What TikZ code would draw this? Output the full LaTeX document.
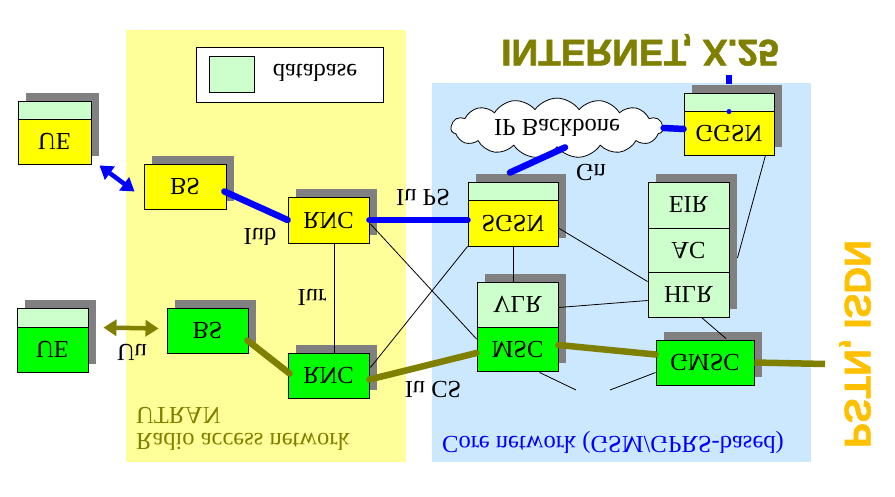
\documentclass[tikz,border=0pt]{standalone}
\usepackage{fontspec}
\setmainfont{Liberation Serif}
\newfontfamily\heavysans[BoldFeatures={FakeBold=1.5}]{Liberation Sans}
\usetikzlibrary{calc,arrows.meta,shapes.symbols}
\pgfdeclarelayer{regions}
\pgfdeclarelayer{shadows}
\pgfsetlayers{regions,shadows,main}
\definecolor{utranbg}{RGB}{255,255,153}
\definecolor{corebg}{RGB}{204,232,255}
\definecolor{boxyellow}{RGB}{255,255,0}
\definecolor{boxgreen}{RGB}{0,255,0}
\definecolor{dbgreen}{RGB}{204,255,204}
\definecolor{shadowgray}{RGB}{128,128,128}
\definecolor{lineolive}{RGB}{128,128,0}
\definecolor{pstngold}{RGB}{255,192,0}
\definecolor{netblue}{RGB}{0,0,255}
\newcommand{\flp}[1]{\scalebox{1}[-1]{#1}}
\newcommand{\labfont}{\fontsize{24.5}{26}\selectfont}
\newcommand{\bigsans}{\heavysans\bfseries\fontsize{37}{40}\selectfont}
\newcommand{\shadowof}[2]{\fill[shadowgray] ($(#1.north west)+(8,-8)$) rectangle ($(#2.south east)+(8,-8)$);}
\begin{document}
\begin{tikzpicture}[x=1pt,y=-1pt,
  basebox/.style={draw=black,line width=0.9pt,inner sep=0pt,font=\labfont},
  ybox/.style={basebox,fill=boxyellow},
  gbox/.style={basebox,fill=boxgreen},
  dbbox/.style={basebox,fill=dbgreen},
  lbl/.style={inner sep=0pt,font=\labfont},
  thin/.style={draw=black,line width=0.8pt},
  bluethick/.style={draw=netblue,line width=6.5pt,line cap=round},
  olivethick/.style={draw=lineolive,line width=6.5pt,line cap=round},
  dblarrow/.style={line width=4.5pt,{Triangle[length=13pt,width=16pt]}-{Triangle[length=13pt,width=16pt]}}
]
\useasboundingbox (0,0) rectangle (895,497);
\begin{pgfonlayer}{regions}
  \fill[white] (0,0) rectangle (895,497);
  \fill[utranbg] (126,30) rectangle (406,462);
  \fill[corebg] (432,83) rectangle (811,462);
\end{pgfonlayer}

% legend
\node[basebox,fill=white,minimum width=187,minimum height=55] (legend) at (289.5,74.5) {};
\node[dbbox,minimum width=45,minimum height=36] (swatch) at (231.5,74) {};
\node[lbl] (dblabel) at (315,73) {\flp{database}};

% UTRAN boxes
\node[ybox,minimum width=73,minimum height=45] (UE1) at (54.5,141.5) {\flp{UE}};
\node[dbbox,minimum width=73,minimum height=18] (UE1s) at (54.5,110) {};
\node[ybox,minimum width=82,minimum height=45] (BS1) at (185,186.5) {\flp{BS}};
\node[ybox,minimum width=81,minimum height=46] (RNC1) at (328.5,220) {\flp{RNC}};
\node[gbox,minimum width=71,minimum height=45] (UE2) at (52.5,349.5) {\flp{UE}};
\node[dbbox,minimum width=71,minimum height=19] (UE2s) at (52.5,317.5) {};
\node[gbox,minimum width=81,minimum height=45] (BS2) at (207.5,330.5) {\flp{BS}};
\node[gbox,minimum width=81,minimum height=45] (RNC2) at (328.5,375.5) {\flp{RNC}};

% core boxes
\node[ybox,minimum width=90,minimum height=46] (SGSN) at (513,223) {\flp{SGSN}};
\node[dbbox,minimum width=90,minimum height=18] (SGSNs) at (513,191) {};
\node[ybox,minimum width=90,minimum height=44] (GGSN) at (729,133) {\flp{GGSN}};
\node[dbbox,minimum width=90,minimum height=18] (GGSNs) at (729,102) {};
\node[dbbox,minimum width=81,minimum height=46] (EIR) at (688.5,205) {\flp{EIR}};
\node[dbbox,minimum width=81,minimum height=44] (AC) at (688.5,250) {\flp{AC}};
\node[dbbox,minimum width=81,minimum height=45] (HLR) at (688.5,294.5) {\flp{HLR}};
\node[dbbox,minimum width=81,minimum height=45] (VLR) at (517.5,304.5) {\flp{VLR}};
\node[gbox,minimum width=81,minimum height=44] (MSC) at (517.5,349) {\flp{MSC}};
\node[gbox,minimum width=98,minimum height=45] (GMSC) at (705,362.5) {\flp{GMSC}};

\node[cloud,draw=black,line width=0.8pt,fill=white,cloud puffs=15,cloud puff arc=110,
      aspect=4.3,minimum width=212,minimum height=52,inner sep=0pt,font=\labfont] (cloud) at (557,128) {\flp{IP Backbone}};

\begin{pgfonlayer}{shadows}
  \shadowof{UE1s}{UE1}
  \shadowof{BS1}{BS1}
  \shadowof{RNC1}{RNC1}
  \shadowof{UE2s}{UE2}
  \shadowof{BS2}{BS2}
  \shadowof{RNC2}{RNC2}
  \shadowof{SGSNs}{SGSN}
  \shadowof{GGSNs}{GGSN}
  \shadowof{EIR}{HLR}
  \shadowof{VLR}{MSC}
  \shadowof{GMSC}{GMSC}
\end{pgfonlayer}

% external ends
\coordinate (inet) at (729,75);
\coordinate (pstn) at (825,364);
\coordinate (gapA) at (576,390);
\coordinate (gapB) at (610,390);

% thin connectors
\draw[thin] ($(RNC1.south)+(6,0)$) -- ($(RNC2.north)+(6,0)$);
\draw[thin] ($(RNC1.east)+(1,4)$) -- ($(MSC.west)+(0,-10)$);
\draw[thin] ($(RNC2.east)+(1,-8)$) -- (SGSN.south west);
\draw[thin] (SGSN.south) -- (SGSN.south |- VLR.north);
\draw[thin] ($(SGSN.east)+(0,5)$) -- ($(HLR.north west)+(0,10)$);
\draw[thin] ($(VLR.east)+(0,3)$) -- ($(HLR.west)+(0,6)$);
\draw[thin] ($(GGSN.south east)+(-9,0)$) -- ($(AC.east)+(8,8)$);
\draw[thin] ($(HLR.south)+(13,0)$) -- ($(GMSC.north)+(21,-1)$);
\draw[thin] ($(MSC.south)+(22,1)$) -- (gapA);
\draw[thin] (gapB) -- ($(GMSC.west)+(0,10)$);

% thick connectors
\draw[bluethick] ($(BS1.east)+(-2,5)$) -- (RNC1.west);
\draw[bluethick] (RNC1.east) -- (RNC1.east -| SGSN.west);
\draw[bluethick] ($(SGSNs.north)+(-3,-9)$) -- ($(cloud.south)+(8,0)$);
\draw[bluethick] (cloud.east) -- ($(GGSN.west)+(0,-4)$);
\draw[bluethick,line cap=butt] (inet) -- ($(GGSNs.north)+(0,-9)$);
\fill[netblue] ($(GGSN.north)+(0,1)$) circle (2.5);
\draw[olivethick] ($(BS2.east)+(-1,10)$) -- ($(RNC2.west)+(2,-2)$);
\draw[olivethick] ($(RNC2.east)+(0,4)$) -- ($(MSC.west)+(0,4)$);
\draw[olivethick] ($(MSC.east)+(0,-4)$) -- ($(GMSC.west)+(0,-8)$);
\draw[olivethick,line cap=butt] (GMSC.east) -- (pstn);
\draw[dblarrow,draw=netblue,fill=netblue] ($(UE1.south east)+(8,1)$) -- ($(BS1.west)+(-9,5)$);
\draw[dblarrow,draw=lineolive,fill=lineolive] ($(UE2.north east)+(15,1)$) -- ($(BS2.west)+(-8,-2)$);

% labels
\node[lbl] (iub) at (260,237) {\flp{Iub}};
\node[lbl] (iups) at (423,197) {\flp{Iu PS}};
\node[lbl] (gn) at (591,172) {\flp{Gn}};
\node[lbl] (iur) at (312,297) {\flp{Iur}};
\node[lbl] (uu) at (132,352) {\flp{Uu}};
\node[lbl] (iucs) at (433,389) {\flp{Iu CS}};
\node[lbl,anchor=west,text=lineolive] (utran) at (136,415) {\flp{UTRAN}};
\node[lbl,anchor=west,text=lineolive] (ran) at (136,442) {\flp{Radio access network}};
\node[lbl,anchor=west,text=netblue] (corelbl) at (442,442) {\flp{Core network (GSM/GPRS-based)}};
\node[inner sep=0pt,font=\bigsans,text=lineolive] (internet) at (640,50) {\flp{INTERNET, X.25}};
\node[inner sep=0pt,font=\bigsans,text=pstngold,cm={0,1,1,0,(0,0)}] (pstnlbl) at (855,344) {PSTN, ISDN};
\end{tikzpicture}
\end{document}
